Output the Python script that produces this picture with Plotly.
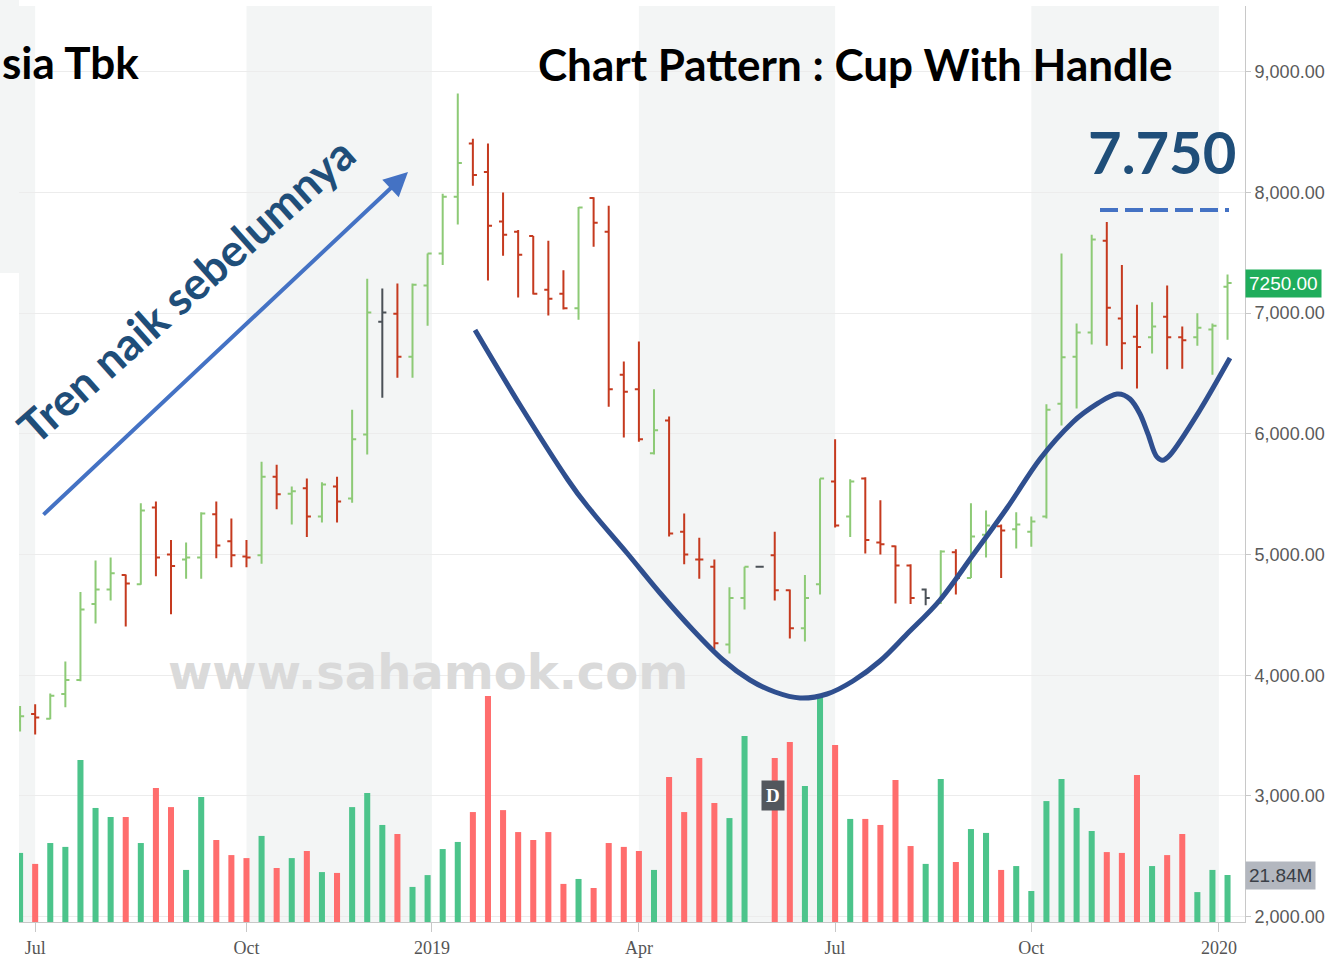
import pandas as pd
import plotly.graph_objects as go

# ---------------- data (weekly bars, Jul 2018 - Jan 2020) ----------------
first_week = "2018-06-24"
n_weeks = 81
dates = pd.date_range(first_week, periods=n_weeks, freq="7D")

opens = [3620, 3680, 3640, 3845, 3960, 4590, 4710, 4830, 4755, 5390,
         5000, 4960, 4975, 5335, 5110, 4985, 4995, 5645, 5505, 5550,
         5315, 5565, 5465, 5995, 6930, 6995, 6640, 7230, 7495, 7965,
         8405, 8170, 7760, 7675, 7640, 7195, 7160, 7040, 7955, 7675,
         6490, 6370, 5840, 6110, 5190, 4960, 4900, 4255, 4640, 4900,
         4995, 4705, 4390, 4755, 5605, 5315, 5630, 5100, 5070, 4910,
         4710, 4615, 5020, 4805, 5165, 5235, 5210, 5190, 5315, 6250,
         6640, 6840, 7600, 6955, 6805, 6800, 6970, 6800, 6800, 6865,
         7220]
highs = [3745, 3760, 3850, 4115, 4690, 4950, 4975, 4835, 5425, 5440,
         5120, 5100, 5350, 5440, 5300, 5120, 5770, 5745, 5565, 5630,
         5600, 5645, 6200, 7285, 7205, 7245, 7245, 7495, 7990, 8820,
         8445, 8405, 8000, 7690, 7640, 7600, 7355, 7880, 7960, 7890,
         6600, 6765, 6370, 6145, 5340, 5140, 4960, 4730, 4900, 4900,
         5190, 4710, 4830, 5630, 5955, 5625, 5640, 5450, 5075, 4920,
         4720, 5035, 5045, 5425, 5365, 5250, 5350, 5315, 6245, 7495,
         6915, 7650, 7755, 7400, 7070, 7090, 7230, 6890, 7000, 6915,
         7320]
lows = [3535, 3510, 3635, 3735, 3950, 4430, 4620, 4405, 4750, 4820,
        4505, 4800, 4800, 4970, 4895, 4895, 4925, 5375, 5250, 5145,
        5265, 5265, 5430, 5830, 6300, 6465, 6465, 6895, 7400, 7735,
        8055, 7270, 7475, 7130, 7155, 6980, 7030, 6945, 7550, 6225,
        5970, 5935, 5830, 5150, 4920, 4800, 4215, 4180, 4545, 4900,
        4620, 4305, 4280, 4670, 5225, 5145, 5010, 5000, 4595, 4590,
        4580, 4590, 4670, 4805, 4975, 4805, 5050, 5065, 5300, 6070,
        6210, 6740, 6730, 6535, 6375, 6665, 6535, 6540, 6730, 6490,
        6780]
closes = [3660, 3650, 3830, 3960, 4545, 4710, 4845, 4760, 5365, 4975,
          4905, 4975, 5340, 5075, 4995, 4975, 5645, 5500, 5525, 5315,
          5580, 5440, 5955, 7005, 7005, 6640, 7235, 7495, 7965, 8245,
          8145, 7725, 7650, 7485, 7160, 7120, 7040, 7875, 7750, 6370,
          6350, 5955, 6030, 5175, 5000, 4960, 4265, 4640, 4900, 4900,
          4705, 4390, 4640, 5630, 5240, 5605, 5120, 5085, 4910, 4640,
          4640, 5025, 4805, 5150, 5240, 5200, 5250, 5275, 6200, 6635,
          6840, 7610, 7045, 6750, 6720, 6890, 6800, 6775, 6880, 6895,
          7250]
volumes_m = [32.1, 27.0, 36.7, 34.9, 75.3, 53.0, 48.8, 48.8, 36.7, 62.3,
             53.4, 24.2, 58.1, 38.1, 31.1, 29.7, 40.0, 25.1, 29.7, 33.0,
             23.2, 22.8, 53.4, 59.9, 45.1, 40.9, 16.3, 21.8, 33.9, 37.2,
             51.1, 105.0, 52.0, 41.8, 38.1, 41.8, 17.7, 20.0, 15.8, 36.7,
             34.9, 33.0, 24.2, 67.4, 51.1, 76.2, 55.3, 48.3, 86.4, 0.0,
             76.2, 83.6, 63.2, 104.6, 82.3, 47.9, 47.9, 45.1, 66.0, 35.3,
             27.0, 66.5, 27.9, 43.2, 41.4, 24.2, 26.0, 14.4, 56.2, 66.5,
             53.0, 42.3, 32.5, 32.1, 68.3, 26.0, 31.1, 40.9, 13.9, 24.2,
             21.84]

# month ticks sit on the first weekly bar of the month, year ticks on Jan 1
tick_dates = ["2018-07-01", "2018-10-07", "2019-01-01", "2019-04-07",
              "2019-07-07", "2019-10-06", "2020-01-01"]
tick_labels = ["Jul", "Oct", "2019", "Apr", "Jul", "Oct", "2020"]
price_ticks = [2000, 3000, 4000, 5000, 6000, 7000, 8000, 9000]

# alternating quarter shading, bounded by the tick positions
quarter_bands = [("2018-06-20", "2018-07-01"), ("2018-10-07", "2019-01-01"),
                 ("2019-04-07", "2019-07-07"), ("2019-10-06", "2020-01-01")]

last_price_label = "7250.00"
last_volume_label = "21.84M"
target_label = "7.750"

# ---------------- styling ----------------
UP, DOWN, FLAT = "#8dca76", "#c53a1f", "#4b5157"
VUP, VDOWN = "#4cc48b", "#ff6d6d"
NAVY_TXT = "#1f4e79"
ARROW_BLUE = "#4472c4"
CUP = "#2f4f8f"
BAND = "#f3f5f5"

W, H = 1337, 964
ML, MR, MT, MB = 19, 92, 6, 42
PW, PH = W - ML - MR, H - MT - MB


def fx(px):
    return (px - ML) / PW


def fy(py):
    return (H - MB - py) / PH


# colour of each bar follows close vs previous close
dirs = []
vcols = []
for i in range(n_weeks):
    prev = closes[i - 1] if i > 0 else opens[0]
    if closes[i] > prev:
        dirs.append("up")
    elif closes[i] < prev:
        dirs.append("down")
    else:
        dirs.append("flat")
    vcols.append(VUP if closes[i] >= prev else VDOWN)

fig = go.Figure()

fig.add_trace(go.Bar(x=dates, y=volumes_m, marker_color=vcols, marker_line_width=0,
                     yaxis="y", xaxis="x", showlegend=False, hoverinfo="skip"))

for key, col in (("up", UP), ("down", DOWN), ("flat", FLAT)):
    idx = [i for i in range(n_weeks) if dirs[i] == key]
    fig.add_trace(go.Ohlc(
        x=[dates[i] for i in idx],
        open=[opens[i] for i in idx], high=[highs[i] for i in idx],
        low=[lows[i] for i in idx], close=[closes[i] for i in idx],
        increasing=dict(line=dict(color=col, width=2)),
        decreasing=dict(line=dict(color=col, width=2)),
        tickwidth=0.27, yaxis="y2", xaxis="x", showlegend=False, hoverinfo="skip"))

# ---------------- shapes ----------------
shapes = []
for a, b in quarter_bands:
    shapes.append(dict(type="rect", xref="x", yref="paper", x0=a, x1=b, y0=0, y1=1,
                       fillcolor=BAND, line=dict(width=0), layer="below"))
shapes.append(dict(type="rect", xref="paper", yref="paper", x0=fx(0), x1=fx(ML), y0=fy(273),
                   y1=fy(0), fillcolor=BAND, line=dict(width=0), layer="below"))

# dashed target line
shapes.append(dict(type="line", xref="paper", yref="paper", x0=fx(1100), x1=fx(1229),
                   y0=fy(210), y1=fy(210), line=dict(color=ARROW_BLUE, width=4, dash="18px,7px")))

# cup-with-handle drawing (Catmull-Rom through hand-drawn guide points)
cup_pts = [(475, 330), (520, 405), (568, 480), (593, 513), (627, 553), (660, 593),
           (693, 630), (723, 660), (750, 680), (775, 692), (800, 698), (827, 694),
           (853, 681), (880, 661), (907, 634), (940, 600), (973, 555), (1007, 508),
           (1040, 459), (1073, 422), (1100, 402), (1117, 394), (1130, 399), (1140, 414),
           (1148, 434), (1157, 457), (1170, 455), (1200, 410), (1230, 358)]


def catmull_path(pts):
    p = [(fx(a), fy(b)) for a, b in pts]
    s = "M %.5f,%.5f" % p[0]
    for i in range(len(p) - 1):
        p0 = p[i - 1] if i > 0 else p[i]
        p1, p2 = p[i], p[i + 1]
        p3 = p[i + 2] if i + 2 < len(p) else p2
        c1 = (p1[0] + (p2[0] - p0[0]) / 6, p1[1] + (p2[1] - p0[1]) / 6)
        c2 = (p2[0] - (p3[0] - p1[0]) / 6, p2[1] - (p3[1] - p1[1]) / 6)
        s += " C %.5f,%.5f %.5f,%.5f %.5f,%.5f" % (c1 + c2 + p2)
    return s


shapes.append(dict(type="path", xref="paper", yref="paper", path=catmull_path(cup_pts),
                   line=dict(color=CUP, width=5)))

# ---------------- annotations ----------------
ann = []
ann.append(dict(xref="paper", yref="paper", x=fx(0), y=fy(62), xanchor="left", yanchor="middle",
                text="sia Tbk", showarrow=False,
                font=dict(family="Lato", size=44, color="#000000", weight="bold")))
ann.append(dict(xref="paper", yref="paper", x=fx(855), y=fy(64), xanchor="center", yanchor="middle",
                text="Chart Pattern : Cup With Handle", showarrow=False,
                font=dict(family="Lato", size=44, color="#000000", weight="bold")))
ann.append(dict(xref="paper", yref="paper", x=fx(1162), y=fy(152), xanchor="center", yanchor="middle",
                text=target_label, showarrow=False,
                font=dict(family="Lato", size=58, color=NAVY_TXT, weight="bold")))
ann.append(dict(xref="paper", yref="paper", x=fx(186), y=fy(290), xanchor="center", yanchor="middle",
                text="Tren naik sebelumnya", showarrow=False, textangle=-41.7,
                font=dict(family="Lato", size=45, color=NAVY_TXT, weight="bold")))
ann.append(dict(xref="paper", yref="paper", x=fx(408), y=fy(172), ax=42 - 408, ay=516 - 172,
                text="", showarrow=True, arrowhead=2, arrowsize=1.2, arrowwidth=4,
                arrowcolor=ARROW_BLUE))
ann.append(dict(xref="paper", yref="paper", x=fx(428), y=fy(672), xanchor="center", yanchor="middle",
                text="www.sahamok.com", showarrow=False,
                font=dict(family="DejaVu Sans", size=48, color="#dadada", weight="bold")))
ann.append(dict(xref="paper", yref="paper", x=fx(773), y=fy(795), xanchor="center", yanchor="middle",
                text="D", showarrow=False, bgcolor="#52575d", borderpad=4,
                font=dict(family="Liberation Serif", size=19, color="#ffffff", weight="bold")))
ann.append(dict(xref="paper", yref="y2", x=1, y=closes[-1], xanchor="left", yanchor="middle",
                text=last_price_label, showarrow=False, bgcolor="#1fad5b", borderpad=3,
                font=dict(family="Liberation Sans", size=19, color="#ffffff")))
ann.append(dict(xref="paper", yref="y", x=1, y=volumes_m[-1], xanchor="left", yanchor="middle",
                text=last_volume_label, showarrow=False, bgcolor="#b3b7bf", borderpad=3,
                font=dict(family="Liberation Sans", size=19, color="#3a3f47")))

fig.update_layout(
    width=W, height=H,
    margin=dict(l=ML, r=MR, t=MT, b=MB),
    paper_bgcolor="#ffffff", plot_bgcolor="#ffffff",
    showlegend=False, bargap=0.6,
    shapes=shapes, annotations=ann,
    xaxis=dict(type="date", range=["2018-06-23 12:00", "2020-01-13 02:24"],
               tickvals=tick_dates, ticktext=tick_labels, ticks="outside", ticklen=9,
               tickcolor="#c8c8c8", showline=True, linecolor="#c8c8c8", linewidth=1,
               showgrid=False, zeroline=False, rangeslider=dict(visible=False),
               tickfont=dict(family="Liberation Serif", size=18, color="#555555")),
    yaxis=dict(range=[0, 425.7], visible=False, showgrid=False, fixedrange=True),
    yaxis2=dict(overlaying="y", side="right", range=[1956, 9545], tickvals=price_ticks,
                tickformat=",.2f", ticks="outside", ticklen=5, tickcolor="#c8c8c8",
                showline=True, linecolor="#c8c8c8", linewidth=1, showgrid=True,
                gridcolor="#ececec", zeroline=False,
                tickfont=dict(family="Liberation Sans", size=18, color="#5a5a5a")),
)

fig.write_html("out.html", config={"displayModeBar": False},
               post_script="document.body.style.margin='0';document.body.style.overflow='hidden';")
